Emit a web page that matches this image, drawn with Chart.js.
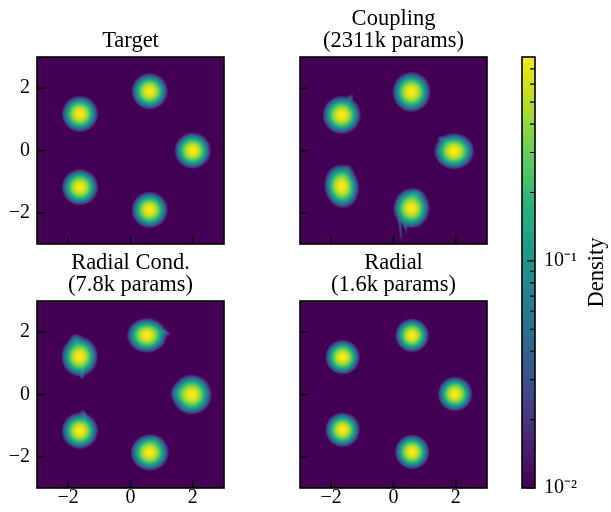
<!DOCTYPE html>
<html><head><meta charset="utf-8">
<script src="https://cdn.jsdelivr.net/npm/chart.js@4/dist/chart.umd.min.js"></script>
<style>
body{margin:0;background:#fff;}
#wrap{position:relative;width:611px;height:512px;background:#fff;}
canvas{position:absolute;left:0;top:0;}
</style></head><body><div id="wrap">
<canvas id="p0" width="611" height="512"></canvas>
<canvas id="p1" width="611" height="512"></canvas>
<canvas id="p2" width="611" height="512"></canvas>
<canvas id="p3" width="611" height="512"></canvas>
<canvas id="cb" width="611" height="512"></canvas>
</div>
<script>
// ---------------- data ----------------
const VMIN = 0.01, VMAX = 0.79;
const axisTicks = [-2, 0, 2];
const cbMajorTicks = [0.01, 0.1];
const cbMinorTicks = [0.02,0.03,0.04,0.05,0.06,0.07,0.08,0.09,0.2,0.3,0.4,0.5,0.6,0.7];
const cbTickLabels = {"0.01": "10⁻²", "0.1": "10⁻¹"};
const cbLabel = "Density";
const panelTitles = [["Target"], ["Coupling", "(2311k params)"], ["Radial Cond.", "(7.8k params)"], ["Radial", "(1.6k params)"]];

// Target: five equal gaussians on a circle of radius 2
const targetCx  = [2.0, 0.618, -1.618, -1.618, 0.618];
const targetCy  = [0.0, 1.902, 1.176, -1.176, -1.902];
const targetSx  = [0.2, 0.2, 0.2, 0.2, 0.2];
const targetSy  = [0.2, 0.2, 0.2, 0.2, 0.2];
const targetRot = [0, 0, 0, 0, 0];
const targetAmp = [0.79, 0.79, 0.79, 0.79, 0.79];

// Coupling: main blobs + small streak components
const couplingCx  = [1.95, 0.58, -1.66, -1.66, 0.58, 1.70, -1.42, 0.22, 0.36, 0.70, -1.55];
const couplingCy  = [-0.02, 1.88, 1.14, -1.15, -1.85, 0.28, 1.62, -2.50, -2.30, -1.42, -0.80];
const couplingSx  = [0.22, 0.21, 0.21, 0.19, 0.20, 0.18, 0.05, 0.03, 0.03, 0.12, 0.10];
const couplingSy  = [0.20, 0.22, 0.21, 0.24, 0.22, 0.05, 0.14, 0.32, 0.28, 0.08, 0.18];
const couplingRot = [0, 0, 0, 10, 0, -30, -30, 5, 10, 0, -20];
const couplingAmp = [0.80, 0.80, 0.80, 0.80, 0.80, 0.035, 0.03, 0.025, 0.025, 0.06, 0.05];

// Radial Cond.
const radCondCx  = [1.97, 0.53, -1.63, -1.62, 0.62, 0.98, -1.75, -1.55, 1.55, -1.48, 0.75];
const radCondCy  = [0.00, 1.90, 1.22, -1.16, -1.86, 2.02, 1.72, 0.75, 0.05, -0.70, -1.50];
const radCondSx  = [0.22, 0.22, 0.20, 0.20, 0.21, 0.18, 0.10, 0.04, 0.12, 0.05, 0.12];
const radCondSy  = [0.22, 0.19, 0.22, 0.20, 0.20, 0.05, 0.12, 0.16, 0.12, 0.14, 0.08];
const radCondRot = [0, 0, 0, 0, 0, -15, 0, 0, 0, 20, 0];
const radCondAmp = [0.80, 0.80, 0.80, 0.80, 0.80, 0.04, 0.05, 0.035, 0.05, 0.035, 0.05];

// Radial
const radialCx  = [1.98, 0.60, -1.63, -1.63, 0.60];
const radialCy  = [0.02, 1.90, 1.20, -1.13, -1.84];
const radialSx  = [0.19, 0.185, 0.19, 0.19, 0.19];
const radialSy  = [0.19, 0.185, 0.19, 0.19, 0.19];
const radialRot = [0, 0, 0, 0, 0];
const radialAmp = [0.80, 0.80, 0.80, 0.80, 0.80];

// viridis colormap stops
const viridisStops = ["#440154","#471365","#482475","#453781","#414487","#3b528b","#355f8d","#2f6c8e","#2a788e","#25848e","#21918c","#1e9c89","#22a884","#2ab07f","#44bf70","#5ec962","#7ad151","#9bd93c","#bddf26","#dfe318","#fde725"];

// ---------------- helpers ----------------
const FONT = '"Liberation Serif", "Times New Roman", serif';
const stopsRGB = viridisStops.map(h => [parseInt(h.slice(1,3),16), parseInt(h.slice(3,5),16), parseInt(h.slice(5,7),16)]);
function viridis(t) {
  t = Math.min(1, Math.max(0, t));
  const f = t * (stopsRGB.length - 1);
  const i = Math.min(stopsRGB.length - 2, Math.floor(f));
  const u = f - i;
  const a = stopsRGB[i], b = stopsRGB[i+1];
  return `rgb(${Math.round(a[0]+(b[0]-a[0])*u)},${Math.round(a[1]+(b[1]-a[1])*u)},${Math.round(a[2]+(b[2]-a[2])*u)})`;
}
const LMIN = Math.log10(VMIN), LMAX = Math.log10(VMAX);
const norm = v => (Math.log10(v) - LMIN) / (LMAX - LMIN);

function makeComps(cx, cy, sx, sy, rot, amp) {
  return cx.map((_, i) => ({cx: cx[i], cy: cy[i], sx: sx[i], sy: sy[i], rot: rot[i] * Math.PI / 180, amp: amp[i]}));
}
function density(comps, x, y) {
  let s = 0;
  for (const c of comps) {
    const dx = x - c.cx, dy = y - c.cy;
    const cs = Math.cos(c.rot), sn = Math.sin(c.rot);
    const u = (dx * cs + dy * sn) / c.sx, v = (-dx * sn + dy * cs) / c.sy;
    s += c.amp * Math.exp(-0.5 * (u*u + v*v));
  }
  return s;
}
const fmtTick = v => (v < 0 ? "\u2212" + Math.abs(v) : String(v));

const W = 611, H = 512;
const panels = [
  {id: "p0", comps: makeComps(targetCx, targetCy, targetSx, targetSy, targetRot, targetAmp), rect: {l: 37, t: 57, r: 224, b: 244}, showX: false, showY: true},
  {id: "p1", comps: makeComps(couplingCx, couplingCy, couplingSx, couplingSy, couplingRot, couplingAmp), rect: {l: 300, t: 57, r: 487, b: 244}, showX: false, showY: false},
  {id: "p2", comps: makeComps(radCondCx, radCondCy, radCondSx, radCondSy, radCondRot, radCondAmp), rect: {l: 37, t: 301, r: 224, b: 488}, showX: true, showY: true},
  {id: "p3", comps: makeComps(radialCx, radialCy, radialSx, radialSy, radialRot, radialAmp), rect: {l: 300, t: 301, r: 487, b: 488}, showX: true, showY: false},
];

const panelPlugin = {
  id: "panelDeco",
  beforeDatasetsDraw(chart) {
    const {ctx, chartArea: a} = chart;
    ctx.save(); ctx.fillStyle = viridis(0);
    ctx.fillRect(a.left, a.top, a.right - a.left, a.bottom - a.top);
    ctx.restore();
  },
  afterDraw(chart, args, opts) {
    const {ctx, chartArea: a} = chart;
    ctx.save();
    ctx.strokeStyle = "#000"; ctx.lineWidth = 1.3;
    ctx.beginPath();
    for (const v of axisTicks) {
      const px = chart.scales.x.getPixelForValue(v);
      ctx.moveTo(px, a.bottom); ctx.lineTo(px, a.bottom - 8);
      const py = chart.scales.y.getPixelForValue(v);
      ctx.moveTo(a.left, py); ctx.lineTo(a.left + 8, py);
    }
    ctx.stroke();
    ctx.lineWidth = 1.6;
    ctx.strokeRect(a.left, a.top, a.right - a.left, a.bottom - a.top);
    ctx.fillStyle = "#000"; ctx.font = "22.5px " + FONT;
    ctx.textAlign = "center"; ctx.textBaseline = "alphabetic";
    const lines = opts.lines || [];
    const cx = (a.left + a.right) / 2;
    lines.forEach((ln, i) => {
      ctx.fillText(ln, cx, a.top - 10 - (lines.length - 1 - i) * 22);
    });
    ctx.restore();
  }
};

panels.forEach((p, k) => {
  const N = p.rect.r - p.rect.l, step = 6 / N;
  const pts = [], cols = [];
  for (let i = 0; i < N; i++) {
    for (let j = 0; j < N; j++) {
      const x = -3 + (i + 0.5) * step, y = -3 + (j + 0.5) * step;
      const d = density(p.comps, x, y);
      if (d > VMIN) { pts.push({x, y}); cols.push(viridis(norm(d))); }
    }
  }
  const rad = 1.3 / Math.SQRT2;
  new Chart(document.getElementById(p.id), {
    type: "scatter",
    data: {datasets: [{data: pts, pointStyle: "rect", pointRadius: rad, pointHoverRadius: rad, backgroundColor: cols, borderWidth: 0, clip: 0}]},
    options: {
      responsive: false, animation: false, events: [],
      layout: {padding: {left: 0, top: p.rect.t, right: W - p.rect.r, bottom: 0}},
      plugins: {legend: {display: false}, tooltip: {enabled: false}, panelDeco: {lines: panelTitles[k]}},
      scales: {
        x: {type: "linear", min: -3, max: 3, position: "bottom",
            grid: {display: false, drawTicks: false}, border: {display: false},
            afterBuildTicks: s => { s.ticks = axisTicks.map(v => ({value: v})); },
            afterFit: s => { s.height = H - p.rect.b; },
            ticks: {display: p.showX, padding: -2, color: "#000", font: {family: FONT, size: 20}, callback: v => fmtTick(v), maxRotation: 0}},
        y: {type: "linear", min: -3, max: 3, position: "left",
            grid: {display: false, drawTicks: false}, border: {display: false},
            afterBuildTicks: s => { s.ticks = axisTicks.map(v => ({value: v})); },
            afterFit: s => { s.width = p.rect.l; },
            ticks: {display: p.showY, padding: 7, color: "#000", font: {family: FONT, size: 20}, callback: v => fmtTick(v)}}
      }
    },
    plugins: [panelPlugin]
  });
});

// ---------------- colorbar ----------------
const cbRect = {l: 522, t: 57, r: 535, b: 488};
const NSEG = 140;
const edges = [];
for (let k = 0; k <= NSEG; k++) edges.push(Math.pow(10, LMIN + (LMAX - LMIN) * k / NSEG));
const cbDatasets = [];
for (let k = 0; k < NSEG; k++) {
  cbDatasets.push({data: [[edges[k], edges[Math.min(NSEG, k + 2)]]], backgroundColor: viridis((k + 0.5) / NSEG),
    borderWidth: 0, grouped: false, barPercentage: 1, categoryPercentage: 1});
}
const cbPlugin = {
  id: "cbDeco",
  afterDraw(chart) {
    const {ctx, chartArea: a} = chart;
    const ys = chart.scales.y;
    ctx.save();
    ctx.strokeStyle = "#000"; ctx.lineWidth = 1.2;
    ctx.beginPath();
    for (const v of cbMajorTicks) { const py = ys.getPixelForValue(v); ctx.moveTo(a.right, py); ctx.lineTo(a.right - 8, py); }
    for (const v of cbMinorTicks) { const py = ys.getPixelForValue(v); ctx.moveTo(a.right, py); ctx.lineTo(a.right - 5, py); }
    ctx.stroke();
    ctx.lineWidth = 1.6;
    ctx.strokeRect(a.left, a.top, a.right - a.left, a.bottom - a.top);
    ctx.translate(597, (a.top + a.bottom) / 2);
    ctx.rotate(-Math.PI / 2);
    ctx.fillStyle = "#000"; ctx.font = "22.5px " + FONT;
    ctx.textAlign = "center"; ctx.textBaseline = "middle";
    ctx.fillText(cbLabel, 0, 0);
    ctx.restore();
  }
};
new Chart(document.getElementById("cb"), {
  type: "bar",
  data: {labels: [""], datasets: cbDatasets},
  options: {
    responsive: false, animation: false, events: [],
    layout: {padding: {left: cbRect.l, top: cbRect.t, right: 0, bottom: 0}},
    plugins: {legend: {display: false}, tooltip: {enabled: false}},
    scales: {
      x: {type: "category", grid: {display: false, drawTicks: false}, border: {display: false}, ticks: {display: false},
          afterFit: s => { s.height = H - cbRect.b; }},
      y: {type: "logarithmic", position: "right", min: VMIN, max: VMAX,
          grid: {display: false, drawTicks: false}, border: {display: false},
          afterBuildTicks: s => { s.ticks = cbMajorTicks.concat(cbMinorTicks).sort((a, b) => a - b).map(v => ({value: v, major: cbMajorTicks.includes(v)})); },
          afterFit: s => { s.width = W - cbRect.r; },
          ticks: {display: true, padding: 9, color: "#000", font: {family: FONT, size: 20}, autoSkip: false,
                  callback: v => cbTickLabels[String(v)] || ""}}
    }
  },
  plugins: [cbPlugin]
});
</script>
</body></html>
